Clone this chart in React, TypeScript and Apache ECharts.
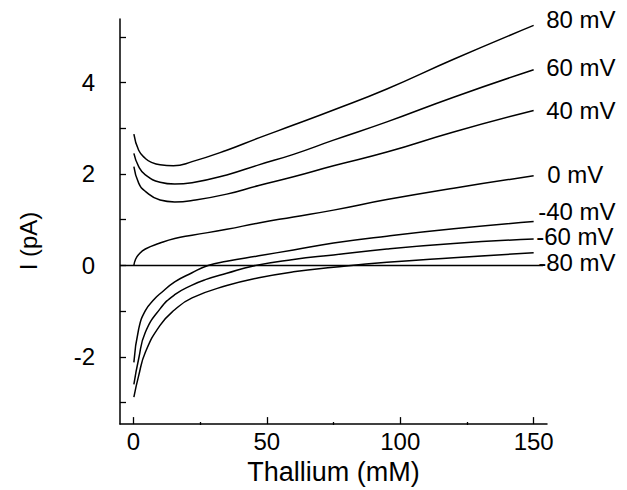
import React, { useEffect, useRef } from "react";
import * as echarts from "echarts";

const FONT = "'Liberation Sans', Arial, Helvetica, sans-serif";

const seriesNames = ["80 mV", "60 mV", "40 mV", "0 mV", "-40 mV", "-60 mV", "-80 mV"];

const thal80 = [0.2, 2, 4.5, 7, 10, 15, 22, 35, 47, 60, 75, 95, 120, 150];
const cur80 = [2.87, 2.52, 2.34, 2.25, 2.2, 2.18, 2.27, 2.52, 2.79, 3.07, 3.4, 3.86, 4.51, 5.25];

const thal60 = [0.2, 2, 4.5, 10, 15.5, 22, 35, 47, 60, 75, 95, 120, 150];
const cur60 = [2.45, 2.16, 1.98, 1.82, 1.78, 1.81, 1.98, 2.2, 2.43, 2.74, 3.14, 3.68, 4.28];

const thal40 = [0.2, 2, 4.5, 10, 15.5, 22, 35, 47, 60, 75, 95, 120, 150];
const cur40 = [2.16, 1.8, 1.62, 1.43, 1.39, 1.42, 1.56, 1.75, 1.94, 2.18, 2.48, 2.92, 3.39];

const thal0 = [0.2, 0.8, 2, 4.5, 10, 15.5, 22, 35, 47, 60, 75, 95, 120, 150];
const cur0 = [0, 0.13, 0.24, 0.36, 0.49, 0.59, 0.66, 0.79, 0.93, 1.06, 1.21, 1.44, 1.69, 1.96];

const thalM40 = [0.2, 2, 4.5, 8, 10, 15.5, 22, 28, 35, 47, 60, 75, 95, 120, 150];
const curM40 = [-2.12, -1.39, -0.99, -0.73, -0.62, -0.36, -0.16, 0, 0.09, 0.21, 0.34, 0.49, 0.64, 0.8, 0.96];

const thalM60 = [0.2, 2, 4.5, 10, 15.5, 22, 27, 35, 45, 60, 75, 95, 120, 150];
const curM60 = [-2.6, -2.04, -1.46, -0.95, -0.64, -0.43, -0.31, -0.17, -0.01, 0.13, 0.23, 0.36, 0.48, 0.58];

const thalM80 = [0.2, 2, 4.5, 10, 15.5, 22, 35, 47, 60, 75, 95, 120, 150];
const curM80 = [-2.88, -2.41, -1.9, -1.31, -0.97, -0.71, -0.44, -0.27, -0.14, -0.04, 0.07, 0.17, 0.28];

const zeroLineX = [-5, 153.5];
const zeroLineY = [0, 0];

const xTickLabels = [0, 50, 100, 150];
const xMinorTicks = [25, 75, 125];
const yTickLabels = [-2, 0, 2, 4];
const yTicks = [-3, -2, -1, 0, 1, 2, 3, 4, 5];

const allX = [thal80, thal60, thal40, thal0, thalM40, thalM60, thalM80];
const allY = [cur80, cur60, cur40, cur0, curM40, curM60, curM80];

// pixel nudges of each curve's name from its line end
const labelOffsets = [
  [12, -6],
  [12, -2.5],
  [12, 0],
  [13, -1],
  [4, -10.5],
  [2, -2.5],
  [4, 10],
];

const zip = (xs: number[], ys: number[]) => xs.map((x, i) => [x, ys[i]]);

export default function App() {
  const ref = useRef<HTMLDivElement>(null);
  useEffect(() => {
    const chart = echarts.init(ref.current!, null, { renderer: "svg" });
    const black = "#000";
    const curveSeries = seriesNames.map((name, i) => ({
      name,
      type: "line",
      xAxisIndex: 0,
      yAxisIndex: 0,
      data: zip(allX[i], allY[i]),
      smooth: true,
      symbol: "none",
      silent: true,
      lineStyle: { color: black, width: 1.5 },
    }));
    const labelSeries = {
      name: "labels",
      type: "scatter",
      xAxisIndex: 0,
      yAxisIndex: 0,
      symbolSize: 1,
      silent: true,
      itemStyle: { color: "rgba(0,0,0,0)" },
      data: seriesNames.map((name, i) => {
        const xs = allX[i];
        const ys = allY[i];
        return {
          value: [xs[xs.length - 1], ys[ys.length - 1]],
          label: {
            show: true,
            position: "right",
            distance: 0,
            offset: labelOffsets[i],
            formatter: name,
            color: black,
            opacity: 1,
            textBorderWidth: 0,
            fontSize: 24,
            fontFamily: FONT,
          },
        };
      }),
    };
    chart.setOption({
      animation: false,
      backgroundColor: "#fff",
      grid: [
        { left: 120, right: 80, top: 19, bottom: 65 },
        { left: 120, right: 80, top: 19, bottom: 65 },
      ],
      xAxis: [
        {
          gridIndex: 0,
          type: "value",
          min: -5,
          max: 155,
          axisLine: { show: true, onZero: false, lineStyle: { color: black, width: 1.5 } },
          axisTick: {
            show: true,
            inside: true,
            length: 7,
            customValues: xTickLabels,
            lineStyle: { color: black, width: 1.3 },
          },
          axisLabel: {
            customValues: xTickLabels,
            color: black,
            fontSize: 24,
            fontFamily: FONT,
            margin: 5,
          },
          splitLine: { show: false },
          name: "Thallium (mM)",
          nameLocation: "middle",
          nameGap: 33,
          nameTextStyle: { color: black, fontSize: 27, fontFamily: FONT },
        },
        {
          gridIndex: 1,
          type: "value",
          min: -5,
          max: 155,
          axisLine: { show: false, onZero: false },
          axisTick: {
            show: true,
            inside: true,
            length: 3,
            customValues: xMinorTicks,
            lineStyle: { color: black, width: 1.3 },
          },
          axisLabel: { show: false },
          splitLine: { show: false },
        },
      ],
      yAxis: [
        {
          gridIndex: 0,
          type: "value",
          min: -3.47,
          max: 5.39,
          axisLine: { show: true, onZero: false, lineStyle: { color: black, width: 1.5 } },
          axisTick: {
            show: true,
            inside: true,
            length: 6,
            customValues: yTicks,
            lineStyle: { color: black, width: 1.3 },
          },
          axisLabel: {
            customValues: yTickLabels,
            color: black,
            fontSize: 24,
            fontFamily: FONT,
            margin: 25,
          },
          splitLine: { show: false },
        },
        {
          gridIndex: 1,
          type: "value",
          min: -3.47,
          max: 5.39,
          show: false,
          splitLine: { show: false },
        },
      ],
      graphic: [
        {
          type: "text",
          x: 28,
          y: 241,
          rotation: Math.PI / 2,
          style: {
            text: "I (pA)",
            fill: black,
            fontSize: 24,
            fontFamily: FONT,
            align: "center",
            verticalAlign: "middle",
          },
        },
      ],
      series: [
        ...curveSeries,
        {
          name: "zero",
          type: "line",
          xAxisIndex: 0,
          yAxisIndex: 0,
          data: zip(zeroLineX, zeroLineY),
          symbol: "none",
          silent: true,
          lineStyle: { color: black, width: 1.5 },
        },
        labelSeries,
      ],
    });
    return () => chart.dispose();
  }, []);
  return (
    <div
      ref={ref}
      style={{ position: "absolute", left: 0, top: 0, width: 627, height: 490 }}
    />
  );
}
